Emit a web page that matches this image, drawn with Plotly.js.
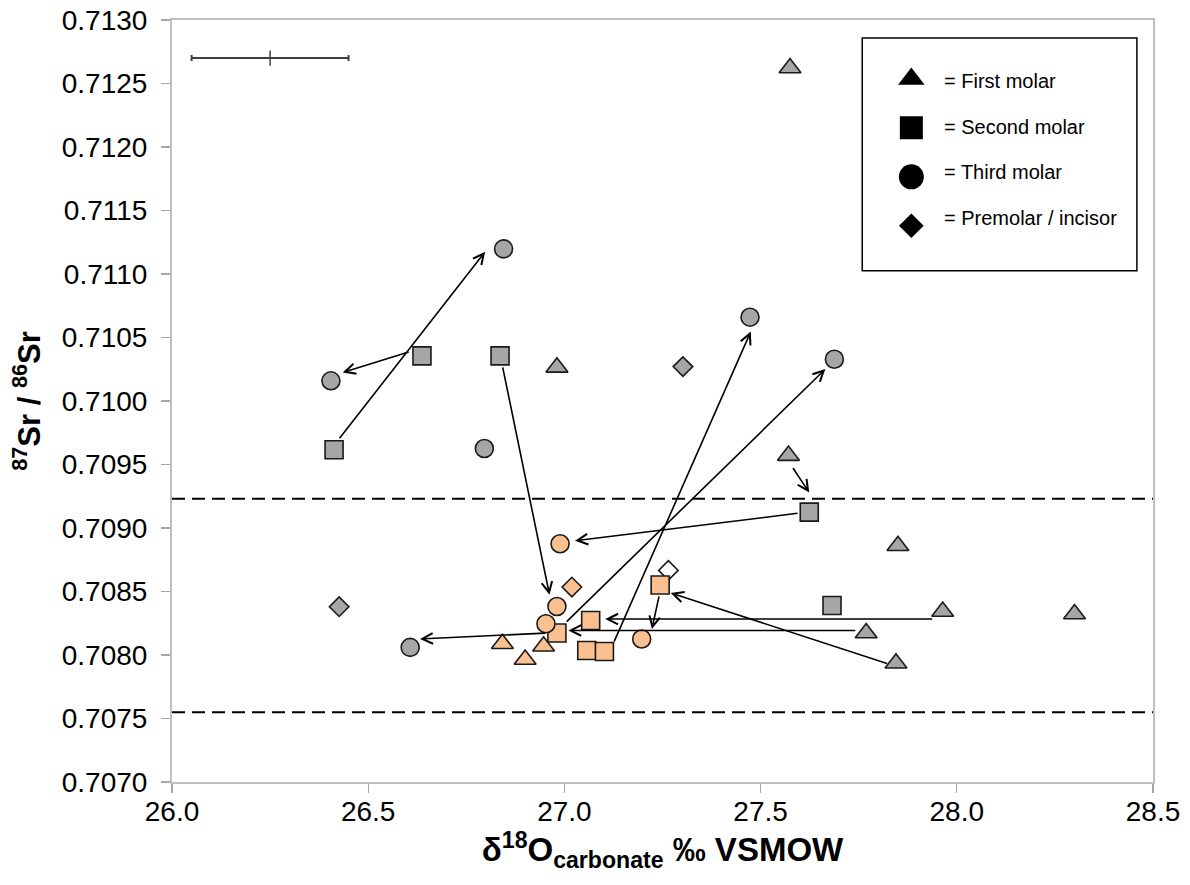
<!DOCTYPE html>
<html><head><meta charset="utf-8">
<script src="https://cdn.plot.ly/plotly-3.0.1.min.js"></script>
<style>html,body{margin:0;padding:0;background:#fff}#chart{width:1190px;height:885px}</style>
</head><body><div id="chart"></div>
<script>
// ---- data ----
// grey symbols
const firstMolarX  = [27.575, 26.981, 27.571, 27.850, 27.964, 28.300, 27.769, 27.845];
const firstMolarY  = [0.712622, 0.710265, 0.709570, 0.708860, 0.708343, 0.708323, 0.708173, 0.707935];
const secondMolarX = [26.413, 26.637, 26.836, 27.624, 27.682];
const secondMolarY = [0.709616, 0.710355, 0.710355, 0.709125, 0.708390];
const thirdMolarX  = [26.845, 26.405, 26.796, 27.473, 27.688, 26.607];
const thirdMolarY  = [0.711198, 0.710159, 0.709626, 0.710660, 0.710329, 0.708060];
const premolarX    = [27.302, 26.426];
const premolarY    = [0.710271, 0.708380];
// open (white) premolar / incisor
const openPremolarX = [27.265];
const openPremolarY = [0.708666];
// orange symbols
const localFirstX   = [26.842, 26.900, 26.947];
const localFirstY   = [0.708089, 0.707964, 0.708069];
const localSecondX  = [27.244, 27.067, 26.981, 27.057, 27.102];
const localSecondY  = [0.708551, 0.708272, 0.708173, 0.708036, 0.708028];
const localThirdX   = [26.989, 26.981, 26.953, 27.197];
const localThirdY   = [0.708876, 0.708382, 0.708246, 0.708126];
const localPremolarX = [27.019];
const localPremolarY = [0.708535];

// arrows: tail -> head
const arrowTailX = [26.424, 26.607, 26.842, 27.002, 27.125, 27.598, 27.580, 27.941, 27.745, 27.826, 27.242, 26.955];
const arrowTailY = [0.709694, 0.710389, 0.710277, 0.708251, 0.708094, 0.709117, 0.709484, 0.708283, 0.708193, 0.707929, 0.708474, 0.708173];
const arrowHeadX = [26.798, 26.435, 26.962, 27.665, 27.475, 27.027, 27.624, 27.104, 27.010, 27.271, 27.223, 26.632];
const arrowHeadY = [0.711176, 0.710224, 0.708474, 0.710251, 0.710547, 0.708899, 0.709279, 0.708283, 0.708193, 0.708488, 0.708204, 0.708126];

// local range (dashed lines)
const localRange = [0.70923, 0.70755];

// analytical error bar
const errBarX = [26.25];
const errBarY = [0.7127];
const errBarHalf = [0.2];

// axis ticks
const xTicks = [26.0, 26.5, 27.0, 27.5, 28.0, 28.5];
const yTicks = [0.7070, 0.7075, 0.7080, 0.7085, 0.7090, 0.7095, 0.7100, 0.7105, 0.7110, 0.7115, 0.7120, 0.7125, 0.7130];

// legend key
const keyLabels  = ['= First molar', '= Second molar', '= Third molar', '= Premolar / incisor'];
const keySymbols = ['triangle-up', 'square', 'circle', 'diamond'];

// ---- styles ----
const FONT = 'Liberation Sans, Arial, sans-serif';
const GREY = '#a6a6a6';
const ORANGE = '#fac090';
const EDGE = {color: '#1a1a1a', width: 1.6};

function pts(x, y, symbol, fill, size) {
  return {type: 'scatter', mode: 'markers', x: x, y: y, hoverinfo: 'x+y',
    marker: {symbol: symbol, color: fill, size: size, opacity: 1, line: EDGE}, showlegend: false};
}

const traces = [
  pts(firstMolarX, firstMolarY, 'triangle-up', GREY, 19),
  pts(secondMolarX, secondMolarY, 'square', GREY, 18),
  pts(thirdMolarX, thirdMolarY, 'circle', GREY, 18),
  pts(premolarX, premolarY, 'diamond', GREY, 15),
  pts(openPremolarX, openPremolarY, 'diamond', '#ffffff', 15),
  pts(localFirstX, localFirstY, 'triangle-up', ORANGE, 19),
  pts(localSecondX, localSecondY, 'square', ORANGE, 18),
  pts(localThirdX, localThirdY, 'circle', ORANGE, 18),
  pts(localPremolarX, localPremolarY, 'diamond', ORANGE, 15),
  {type: 'scatter', mode: 'markers', x: errBarX, y: errBarY, showlegend: false, hoverinfo: 'skip',
   marker: {symbol: 'line-ns', size: 11, line: {color: '#404040', width: 1.5}},
   error_x: {type: 'data', array: errBarHalf, visible: true, color: '#404040', thickness: 2, width: 3}}
];

// legend key drawn on a small overlay axis (pixel-like units)
const keyMarkerY = keyLabels.map((_, i) => 41 + i * 49);
const keyTextY = keyLabels.map((_, i) => 43 + i * 45.7);
traces.push({type: 'scatter', mode: 'markers', xaxis: 'x2', yaxis: 'y2', showlegend: false, hoverinfo: 'skip',
  x: keyLabels.map(() => 49), y: keyMarkerY,
  marker: {symbol: keySymbols, color: '#000', opacity: 1, size: [23, 23, 25, 19], line: {width: 0}}});

const annotations = arrowTailX.map((tx, i) => ({
  x: arrowHeadX[i], y: arrowHeadY[i], ax: tx, ay: arrowTailY[i],
  xref: 'x', yref: 'y', axref: 'x', ayref: 'y', text: '',
  showarrow: true, arrowhead: 5, arrowsize: 1.3, arrowwidth: 1.6, arrowcolor: '#000'
}));
keyLabels.forEach((t, i) => annotations.push({
  x: 80, y: keyTextY[i], xref: 'x2', yref: 'y2', text: t, showarrow: false,
  xanchor: 'left', yanchor: 'middle', font: {family: FONT, size: 20, color: '#000'}
}));

const shapes = localRange.map(v => ({
  type: 'line', xref: 'paper', yref: 'y', x0: 0, x1: 1, y0: v, y1: v,
  line: {color: '#000', width: 2, dash: '13px,7px'}
}));
const KEY = {x0: 0.7036, x1: 0.9836, y0: 0.671, y1: 0.9764};
shapes.push({type: 'rect', xref: 'paper', yref: 'paper', x0: KEY.x0, x1: KEY.x1, y0: KEY.y0, y1: KEY.y1,
  line: {color: '#000', width: 1.5}, fillcolor: '#fff', layer: 'below'});

const axisCommon = {
  showgrid: false, zeroline: false, showline: true, mirror: true,
  linecolor: '#bfbfbf', linewidth: 2, ticks: 'outside', ticklen: 9, tickwidth: 1.2, tickcolor: '#a6a6a6',
  tickfont: {family: FONT, size: 28, color: '#000'}
};

const layout = {
  width: 1190, height: 885,
  margin: {l: 172, r: 37, t: 20, b: 103},
  paper_bgcolor: '#fff', plot_bgcolor: 'rgba(0,0,0,0)',
  showlegend: false,
  font: {family: FONT, color: '#000'},
  xaxis: Object.assign({}, axisCommon, {
    range: [26.0, 28.5], tickvals: xTicks, tickformat: '.1f', ticklabelstandoff: -6,
    title: {text: '<b>δ<sup>18</sup>O<sub>carbonate</sub> ‰ VSMOW</b>', font: {family: FONT, size: 33, color: '#000'}, standoff: 12}
  }),
  yaxis: Object.assign({}, axisCommon, {
    range: [0.7070, 0.7130], tickvals: yTicks, tickformat: '.4f', ticklabelstandoff: 8,
    title: {text: '<b><sup>87</sup>Sr / <sup>86</sup>Sr</b>', font: {family: FONT, size: 31, color: '#000'}, standoff: 12}
  }),
  xaxis2: {domain: [KEY.x0, KEY.x1], range: [0, 274], anchor: 'y2', visible: false, fixedrange: true},
  yaxis2: {domain: [KEY.y0, KEY.y1], range: [233, 0], anchor: 'x2', visible: false, fixedrange: true},
  shapes: shapes,
  annotations: annotations
};

Plotly.newPlot('chart', traces, layout, {displayModeBar: false, staticPlot: true});
</script>
</body></html>
